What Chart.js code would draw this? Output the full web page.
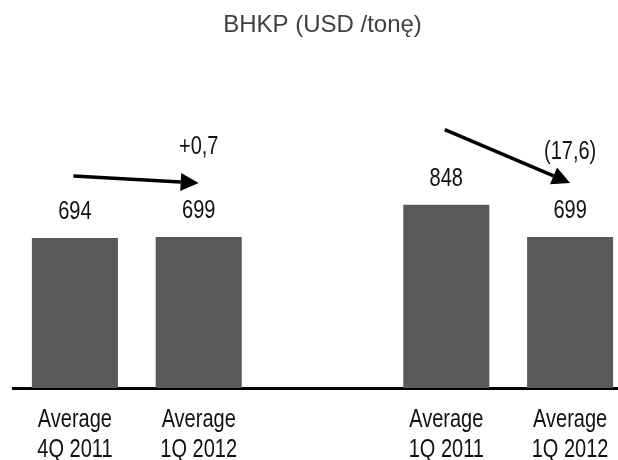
<!DOCTYPE html>
<html>
<head>
<meta charset="utf-8">
<script src="https://cdn.jsdelivr.net/npm/chart.js@4.4.1/dist/chart.umd.min.js"></script>
<style>
  html, body { margin: 0; padding: 0; background: #fff; overflow: hidden; }
  #wrap { width: 642px; height: 460px; }
</style>
</head>
<body>
<div id="wrap"><canvas id="myChart"></canvas></div>
<script>
// data
const categories = [['Average', '4Q 2011'], ['Average', '1Q 2012'], '', ['Average', '1Q 2011'], ['Average', '1Q 2012']];
const prices = [694, 699, null, 848, 699];
const changeLabels = ['+0,7', '(17,6)'];
const changePairs = [[0, 1], [3, 4]];

// arrow / label placement (pixels above bar tops)
const arrowStyle = [
    { startDy: 62, endDy: 54, textDy: 83 },
    { startDy: 75, endDy: 54, textDy: 78 }
];

// no narrow font installed, so squeeze Liberation Sans
const textFont = "25px 'Liberation Sans', Arial, sans-serif";
const squeeze = 0.8;

function narrowText(ctx, txt, x, y) {
    ctx.save();
    ctx.translate(x, y);
    ctx.scale(squeeze, 1);
    ctx.fillText(txt, 0, 0);
    ctx.restore();
}

const annotate = {
    id: 'annotate',
    afterDatasetsDraw(chart) {
        const ctx = chart.ctx;
        const bars = chart.getDatasetMeta(0).data;
        const xs = chart.scales.x;
        const bottom = chart.chartArea.bottom;
        ctx.save();
        ctx.font = textFont;
        ctx.fillStyle = '#111';
        ctx.textAlign = 'center';
        ctx.textBaseline = 'alphabetic';
        // values over bars
        for (let i = 0; i < prices.length; i++) {
            if (prices[i] == null) continue;
            narrowText(ctx, String(prices[i]), bars[i].x, bars[i].y - 19);
        }
        // category labels
        for (let i = 0; i < categories.length; i++) {
            const lines = Array.isArray(categories[i]) ? categories[i] : [categories[i]];
            const x = xs.getPixelForTick(i);
            for (let j = 0; j < lines.length; j++) {
                narrowText(ctx, lines[j], x, bottom + 39 + j * 29.5);
            }
        }
        // arrows with the change text
        for (let k = 0; k < changePairs.length; k++) {
            const a = bars[changePairs[k][0]];
            const b = bars[changePairs[k][1]];
            const st = arrowStyle[k];
            const x1 = a.x - 1.5, y1 = a.y - st.startDy;
            const x2 = b.x, y2 = b.y - st.endDy;
            const ang = Math.atan2(y2 - y1, x2 - x1);
            const head = 18;
            const bx = x2 - head * Math.cos(ang), by = y2 - head * Math.sin(ang);
            ctx.strokeStyle = '#000';
            ctx.lineWidth = 3.5;
            ctx.beginPath();
            ctx.moveTo(x1, y1);
            ctx.lineTo(bx, by);
            ctx.stroke();
            ctx.fillStyle = '#000';
            ctx.beginPath();
            ctx.moveTo(x2, y2);
            ctx.lineTo(bx + 9 * Math.sin(ang), by - 9 * Math.cos(ang));
            ctx.lineTo(bx - 9 * Math.sin(ang), by + 9 * Math.cos(ang));
            ctx.closePath();
            ctx.fill();
            ctx.fillStyle = '#111';
            narrowText(ctx, changeLabels[k], b.x, b.y - st.textDy);
        }
        ctx.restore();
    }
};

const ctx = document.getElementById('myChart').getContext('2d');

const config = {
    type: 'bar',
    data: {
        labels: categories,
        datasets: [
            {
                label: 'BHKP',
                data: prices,
                backgroundColor: '#595959',
                borderWidth: 0,
                categoryPercentage: 1,
                barPercentage: 0.695
            }
        ]
    },
    options: {
        responsive: true,
        maintainAspectRatio: false,
        animation: false,
        layout: { padding: { left: 13, right: 10, top: 0, bottom: 12 } },
        plugins: {
            legend: { display: false },
            tooltip: { enabled: false },
            title: {
                display: true,
                text: 'BHKP (USD /tonę)',
                color: '#404040',
                font: { family: "'Liberation Sans', Arial, sans-serif", size: 24, weight: 'normal' },
                padding: { top: 11, bottom: 24 }
            }
        },
        scales: {
            x: {
                grid: { display: false, drawTicks: false },
                border: { display: true, color: '#000', width: 3 },
                ticks: {
                    // drawn by the plugin (squeezed), kept here for the layout
                    color: 'rgba(0,0,0,0)',
                    maxRotation: 0,
                    autoSkip: false,
                    padding: 0,
                    font: { size: 24, lineHeight: 1.25 }
                }
            },
            y: {
                display: false,
                min: 0,
                max: 1500
            }
        }
    },
    plugins: [annotate]
};

const myChart = new Chart(ctx, config);
</script>
</body>
</html>
